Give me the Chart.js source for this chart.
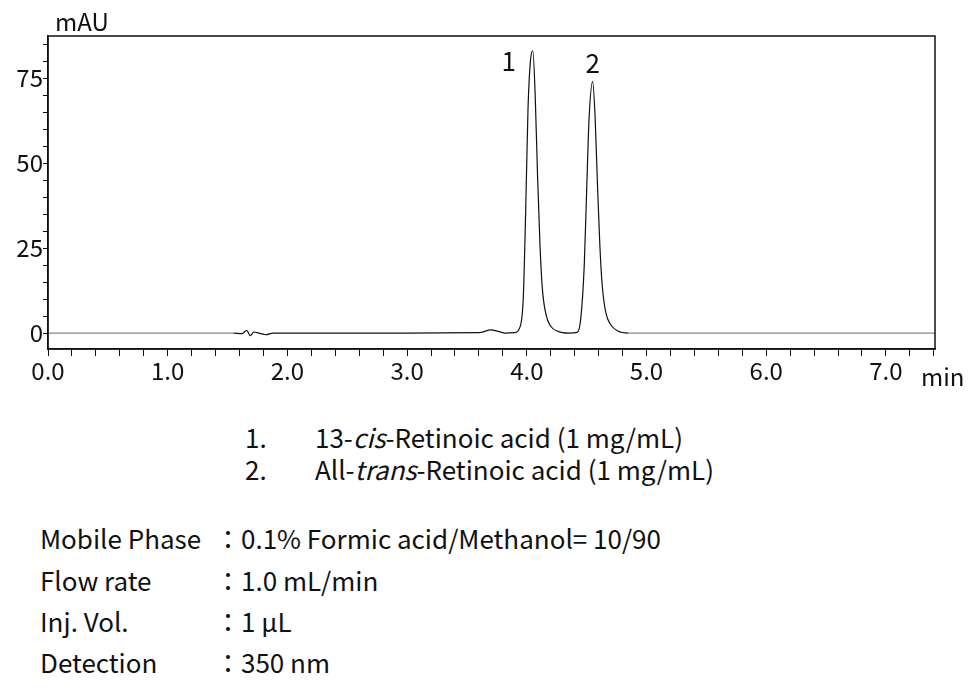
<!DOCTYPE html>
<html>
<head>
<meta charset="utf-8">
<script src="https://cdn.jsdelivr.net/npm/chart.js@4"></script>
<style>
  body { margin: 0; background: #fff; font-family: "Noto Sans CJK JP", "Noto Sans", sans-serif; color: #111; }
  #wrap { position: relative; width: 979px; height: 700px; }
  #chartBox { position: absolute; left: 0; top: 0; width: 979px; height: 395px; }
  .t { position: absolute; font-size: 26px; white-space: nowrap; }
</style>
</head>
<body>
<div id="wrap">
  <div id="chartBox"><canvas id="myChart"></canvas></div>
  <div class="t" style="left:245px;top:418px">1.</div>
  <div class="t" style="left:315px;top:418px">13-<i>cis</i>-Retinoic acid (1 mg/mL)</div>
  <div class="t" style="left:245px;top:450px">2.</div>
  <div class="t" style="left:315px;top:450px">All-<i>trans</i>-Retinoic acid (1 mg/mL)</div>
  <div class="t" style="left:40px;top:519px">Mobile Phase</div>
  <div class="t" style="left:215px;top:519px">：0.1% Formic acid/Methanol= 10/90</div>
  <div class="t" style="left:40px;top:561px">Flow rate</div>
  <div class="t" style="left:215px;top:561px">：1.0 mL/min</div>
  <div class="t" style="left:40px;top:602px">Inj. Vol.</div>
  <div class="t" style="left:215px;top:602px">：1 µL</div>
  <div class="t" style="left:40px;top:643px">Detection</div>
  <div class="t" style="left:215px;top:643px">：350 nm</div>
</div>
<script>
const times = [0, 1.55, 1.62, 1.66, 1.69, 1.72, 1.77, 1.82, 1.88, 3.0, 3.6, 3.7, 3.76, 3.82, 3.9,
  3.94, 3.97, 3.99, 4.01, 4.03, 4.05, 4.07, 4.09, 4.11, 4.13, 4.16, 4.2, 4.26, 4.35,
  4.42, 4.45, 4.48, 4.5, 4.52, 4.55, 4.57, 4.59, 4.61, 4.63, 4.66, 4.7, 4.76, 4.85, 7.41]
const signal = [0, 0, -0.2, 0.8, -0.8, 0.3, -0.1, -0.5, 0, 0, 0.1, 0.9, 0.5, 0, 0.1,
  1.5, 10, 35, 66, 80, 83, 70, 46, 26, 13, 5.5, 2, 0.5, 0,
  0.2, 4, 20, 42, 63, 74, 64, 44, 26, 14, 6, 2.5, 0.6, 0, 0]
const yTicks = [0, 25, 50, 75]
const peakLabels = [{ t: 4.05, v: 83, text: '1', dx: -24, dy: 10 }, { t: 4.55, v: 74, text: '2', dx: 0, dy: -18 }]

const FONT = '"Noto Sans CJK JP", "Noto Sans", sans-serif'

const extraText = {
  id: 'extraText',
  afterDraw: (chart) => {
    const { ctx, scales: { x, y }, chartArea } = chart
    ctx.save()
    ctx.fillStyle = '#111'
    ctx.font = '24px ' + FONT
    ctx.textBaseline = 'bottom'
    ctx.textAlign = 'left'
    ctx.fillText('mAU', 55, 34)
    ctx.textBaseline = 'middle'
    ctx.fillText('min', 921, 377)
    ctx.font = '26px ' + FONT
    ctx.textAlign = 'center'
    peakLabels.forEach((p) => {
      ctx.fillText(p.text, x.getPixelForValue(p.t) + p.dx, y.getPixelForValue(p.v) + p.dy)
    })
    ctx.strokeStyle = '#111'
    ctx.lineWidth = 1.5
    ctx.strokeRect(chartArea.left, chartArea.top, chartArea.right - chartArea.left, chartArea.bottom - chartArea.top)
    ctx.restore()
  }
}

const ctx = document.getElementById('myChart').getContext('2d')
const chart = new Chart(ctx, {
  type: 'line',
  data: {
    datasets: [{
      data: times.map((t, i) => ({ x: t, y: signal[i] })),
      borderColor: '#111',
      borderWidth: 1.2,
      pointRadius: 0,
      cubicInterpolationMode: 'monotone',
      segment: {
        borderColor: (c) => (c.p1.parsed.x <= 1.56 || c.p0.parsed.x >= 4.85) ? '#888' : '#111'
      }
    }]
  },
  options: {
    responsive: true,
    maintainAspectRatio: false,
    animation: false,
    layout: { padding: { top: 36, right: 44, left: 0, bottom: 0 } },
    plugins: { legend: { display: false }, tooltip: { enabled: false } },
    scales: {
      x: {
        type: 'linear',
        min: 0,
        max: 7.41,
        afterBuildTicks: (s) => {
          s.ticks = []
          for (let i = 0; i <= 37; i++) s.ticks.push({ value: i / 5 })
        },
        afterFit: (s) => { s.height = 46 },
        border: { color: '#111', width: 1.5 },
        grid: { drawOnChartArea: false, color: '#111', tickLength: 7 },
        ticks: {
          color: '#111',
          font: { family: FONT, size: 24 },
          maxRotation: 0,
          autoSkip: false,
          padding: 0,
          callback: (v) => Math.abs(v - Math.round(v)) < 1e-6 ? v.toFixed(1) : ''
        }
      },
      y: {
        min: -4.7,
        max: 87.4,
        afterBuildTicks: (s) => {
          s.ticks = []
          for (let v = 0; v <= 85; v += 5) s.ticks.push({ value: v })
        },
        afterFit: (s) => { s.width = 48 },
        border: { color: '#111', width: 1.5 },
        grid: { drawOnChartArea: false, color: '#111', tickLength: 5 },
        ticks: {
          color: '#111',
          font: { family: FONT, size: 24 },
          autoSkip: false,
          padding: 0,
          callback: (v) => yTicks.includes(v) ? String(v) : ''
        }
      }
    }
  },
  plugins: [extraText]
})
</script>
</body>
</html>
